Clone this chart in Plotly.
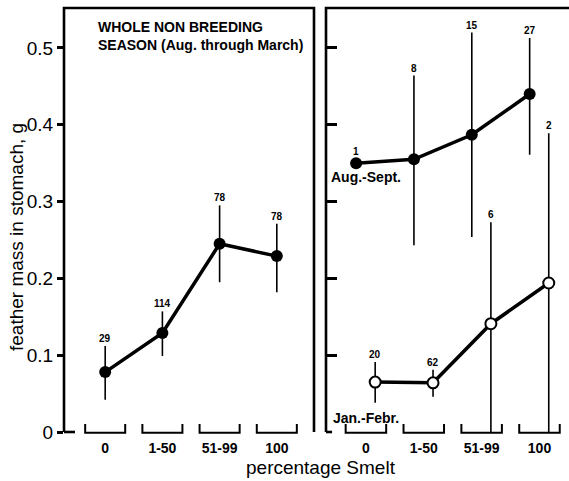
import plotly.graph_objects as go

# ---------------- data ----------------
categories = ["0", "1-50", "51-99", "100"]

whole_mean = [0.078, 0.129, 0.245, 0.229]
whole_plus = [0.034, 0.028, 0.050, 0.042]
whole_minus = [0.036, 0.030, 0.050, 0.047]
whole_n = [29, 114, 78, 78]

aug_mean = [0.350, 0.355, 0.387, 0.440]
aug_plus = [0.0, 0.109, 0.133, 0.073]
aug_minus = [0.0, 0.112, 0.133, 0.079]
aug_n = [1, 8, 15, 27]

jan_mean = [0.065, 0.064, 0.141, 0.194]
jan_plus = [0.026, 0.017, 0.132, 0.195]
jan_minus = [0.027, 0.018, 0.141, 0.194]
jan_n = [20, 62, 6, 2]

y_ticks = [0, 0.1, 0.2, 0.3, 0.4, 0.5]

# ---------------- style ----------------
FONT = "Liberation Sans, Arial, sans-serif"
AUG_OFF = -0.17
JAN_OFF = 0.16
BRACKET_HW = 0.35
FRAME_W = 2.6

idx = list(range(len(categories)))
x_whole = idx
x_aug = [i + AUG_OFF for i in idx]
x_jan = [i + JAN_OFF for i in idx]


def err(plus, minus):
    return dict(type="data", symmetric=False, array=plus, arrayminus=minus,
                width=0, thickness=1.6, color="black")


fig = go.Figure()

fig.add_trace(go.Scatter(
    x=x_whole, y=whole_mean, mode="lines+markers", xaxis="x", yaxis="y",
    line=dict(color="black", width=3.5),
    marker=dict(size=12, color="black"),
    error_y=err(whole_plus, whole_minus), showlegend=False, cliponaxis=False))

fig.add_trace(go.Scatter(
    x=x_aug, y=aug_mean, mode="lines+markers", xaxis="x2", yaxis="y2",
    line=dict(color="black", width=3.5),
    marker=dict(size=12, color="black"),
    error_y=err(aug_plus, aug_minus), showlegend=False, cliponaxis=False))

fig.add_trace(go.Scatter(
    x=x_jan, y=jan_mean, mode="lines+markers", xaxis="x2", yaxis="y2",
    line=dict(color="black", width=3.5),
    marker=dict(size=11, color="white", line=dict(color="black", width=2)),
    error_y=err(jan_plus, jan_minus), showlegend=False, cliponaxis=False))

annotations = []


def count_labels(xs, means, plus, ns, xr, yr):
    for x, m, p, n in zip(xs, means, plus, ns):
        annotations.append(dict(
            x=x, y=m + p, xref=xr, yref=yr, text=str(n), showarrow=False,
            yanchor="bottom", xanchor="center", yshift=(0 if p > 0 else 4),
            font=dict(family=FONT, size=10, color="black", weight="bold")))


count_labels(x_whole, whole_mean, whole_plus, whole_n, "x", "y")
count_labels(x_aug, aug_mean, aug_plus, aug_n, "x2", "y2")
count_labels(x_jan, jan_mean, jan_plus, jan_n, "x2", "y2")

annotations += [
    dict(x=0.128, y=0.978, xref="x domain", yref="y domain",
         text="WHOLE NON BREEDING<br>SEASON (Aug. through March)",
         showarrow=False, xanchor="left", yanchor="top", align="left",
         font=dict(family=FONT, size=14, color="black", weight="bold")),
    dict(x=idx[0], y=aug_mean[0], xref="x2", yref="y2", text="Aug.-Sept.",
         showarrow=False, xanchor="center", yanchor="top", yshift=-4,
         font=dict(family=FONT, size=14, color="black", weight="bold")),
    dict(x=idx[0], y=0, xref="x2", yref="y2", text="Jan.-Febr.",
         showarrow=False, xanchor="center", yanchor="bottom", yshift=4,
         font=dict(family=FONT, size=14, color="black", weight="bold")),
    dict(x=-0.093, y=0.46, xref="paper", yref="paper",
         text="feather mass in stomach, g", textangle=-90, showarrow=False,
         xanchor="center", yanchor="middle",
         font=dict(family=FONT, size=19, color="black")),
    dict(x=0.508, y=-0.083, xref="paper", yref="paper",
         text="percentage Smelt", showarrow=False,
         xanchor="center", yanchor="middle",
         font=dict(family=FONT, size=19, color="black")),
]

shapes = []
line = dict(color="black", width=FRAME_W)
# left panel frame (left, top, right) + bottom stub
shapes.append(dict(type="path", xref="x domain", yref="y domain",
                   path="M 0,0 L 0,1 L 1,1 L 1,0", line=line))
shapes.append(dict(type="line", xref="x domain", yref="y domain",
                   x0=0, x1=0.044, y0=0, y1=0, line=line))
# right panel frame (left, top to edge) + bottom stub
shapes.append(dict(type="path", xref="x2 domain", yref="y2 domain",
                   path="M 0,0 L 0,1 L 1.01,1", line=line))
shapes.append(dict(type="line", xref="x2 domain", yref="y2 domain",
                   x0=0, x1=0.025, y0=0, y1=0, line=line))
# category brackets
for xr, yr in (("x", "y domain"), ("x2", "y2 domain")):
    for i in idx:
        shapes.append(dict(
            type="path", xref=xr, yref=yr,
            path=f"M {i - BRACKET_HW},0.019 L {i - BRACKET_HW},-0.002 "
                 f"L {i + BRACKET_HW},-0.002 L {i + BRACKET_HW},0.019",
            line=dict(color="black", width=2)))

xcommon = dict(tickvals=idx, ticktext=categories, ticks="", showline=False,
               showgrid=False, zeroline=False, ticklabelstandoff=6,
               tickfont=dict(family=FONT, size=14, color="black", weight="bold"))
ycommon = dict(range=[0, 0.552], tickvals=y_ticks, showgrid=False,
               zeroline=False, showline=False, tickcolor="black", tickwidth=2.5)

fig.update_layout(
    width=569, height=481,
    margin=dict(l=64, r=0, t=8, b=49),
    paper_bgcolor="white", plot_bgcolor="white",
    font=dict(family=FONT, color="black"),
    xaxis=dict(domain=[0, 250 / 505], range=[-0.72, 3.65], anchor="y", **xcommon),
    xaxis2=dict(domain=[262 / 505, 1], range=[-0.69, 3.51], anchor="y2", **xcommon),
    yaxis=dict(anchor="x", ticks="outside", ticklen=6,
               tickfont=dict(family=FONT, size=19, color="black"), **ycommon),
    yaxis2=dict(anchor="x2", ticks="inside", ticklen=11,
                showticklabels=False, **ycommon),
    annotations=annotations,
    shapes=shapes,
)

fig.write_html("out.html")
